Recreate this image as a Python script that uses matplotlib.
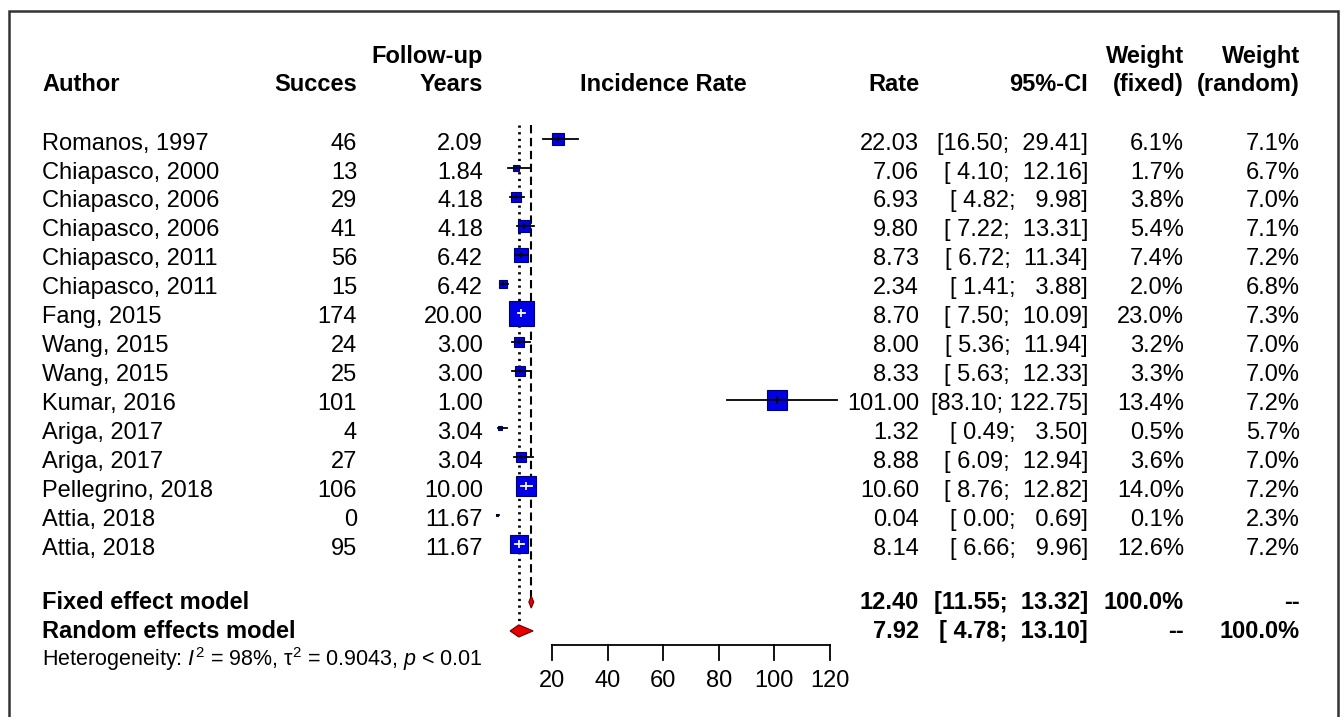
import numpy as np
import matplotlib
matplotlib.use("Agg")
import matplotlib.pyplot as plt
from matplotlib.patches import Rectangle, Polygon
from matplotlib.transforms import blended_transform_factory

plt.rcParams["font.family"] = ["Liberation Sans", "DejaVu Sans"]
plt.rcParams["mathtext.fontset"] = "custom"
plt.rcParams["mathtext.rm"] = "Liberation Sans"
plt.rcParams["mathtext.it"] = "Liberation Sans:italic"

# study data
authors = ["Romanos, 1997", "Chiapasco, 2000", "Chiapasco, 2006", "Chiapasco, 2006",
           "Chiapasco, 2011", "Chiapasco, 2011", "Fang, 2015", "Wang, 2015", "Wang, 2015",
           "Kumar, 2016", "Ariga, 2017", "Ariga, 2017", "Pellegrino, 2018", "Attia, 2018",
           "Attia, 2018"]
succes = [46, 13, 29, 41, 56, 15, 174, 24, 25, 101, 4, 27, 106, 0, 95]
years = [2.09, 1.84, 4.18, 4.18, 6.42, 6.42, 20.00, 3.00, 3.00, 1.00, 3.04, 3.04, 10.00, 11.67, 11.67]
rate = [22.03, 7.06, 6.93, 9.80, 8.73, 2.34, 8.70, 8.00, 8.33, 101.00, 1.32, 8.88, 10.60, 0.04, 8.14]
ci_lo = [16.50, 4.10, 4.82, 7.22, 6.72, 1.41, 7.50, 5.36, 5.63, 83.10, 0.49, 6.09, 8.76, 0.00, 6.66]
ci_hi = [29.41, 12.16, 9.98, 13.31, 11.34, 3.88, 10.09, 11.94, 12.33, 122.75, 3.50, 12.94, 12.82, 0.69, 9.96]
w_fixed = [6.1, 1.7, 3.8, 5.4, 7.4, 2.0, 23.0, 3.2, 3.3, 13.4, 0.5, 3.6, 14.0, 0.1, 12.6]
w_random = [7.1, 6.7, 7.0, 7.1, 7.2, 6.8, 7.3, 7.0, 7.0, 7.2, 5.7, 7.0, 7.2, 2.3, 7.2]

# pooled estimates
fixed_est, fixed_lo, fixed_hi = 12.40, 11.55, 13.32
random_est, random_lo, random_hi = 7.92, 4.78, 13.10
xticks = [20, 40, 60, 80, 100, 120]

W, H = 1341, 717
fig = plt.figure(figsize=(W / 100, H / 100), dpi=100)
ax = fig.add_axes([0, 0, 1, 1])
ax.axis("off")

# pixel -> data mapping
x0_px, px_per_unit = 496.8, 2.775
row0_px, row_px = 139.3, 28.92
ax.set_xlim(-x0_px / px_per_unit, (W - x0_px) / px_per_unit)
ax.set_ylim((H - row0_px) / row_px, -row0_px / row_px)

tr = blended_transform_factory(fig.transFigure, ax.transData)


def fx(px):
    return px / W


def ty(px):
    return (px - row0_px) / row_px


FS = 17
n = len(authors)
dy = 0.15  # text sits a bit below the marker centre
LEFT = 42


def ci_text(lo, hi):
    return f"[{lo:5.2f}; {hi:6.2f}]"


def txt(px, y, s, ha="right", bold=False, size=FS):
    ax.text(fx(px), y, s, transform=tr, fontsize=size, va="center", ha=ha,
            fontweight="bold" if bold else "normal")


# header
h1, h2 = ty(57), ty(84.5)
txt(LEFT, h2, "Author", ha="left", bold=True)
txt(357, h2, "Succes", bold=True)
txt(483, h1, "Follow-up", bold=True)
txt(483, h2, "Years", bold=True)
txt(663, h2, "Incidence Rate", ha="center", bold=True)
txt(919, h2, "Rate", bold=True)
txt(1088, h2, "95%-CI", bold=True)
txt(1184, h1, "Weight", bold=True)
txt(1184, h2, "(fixed)", bold=True)
txt(1300, h1, "Weight", bold=True)
txt(1300, h2, "(random)", bold=True)

# reference lines
fixed_row, random_row = n + 1, n + 2
ax.plot([random_est, random_est], [-0.5, random_row], color="black", lw=2,
        linestyle=(0, (0.8, 1.6)), zorder=1)
ax.plot([fixed_est, fixed_est], [-0.5, fixed_row], color="black", lw=1.5,
        linestyle=(0, (4, 2.2)), zorder=1)

# study rows
max_side = 25.0  # px for largest weight
for i in range(n):
    y = i + dy
    txt(LEFT, y, authors[i], ha="left")
    txt(357, y, str(succes[i]))
    txt(483, y, f"{years[i]:.2f}")
    txt(919, y, f"{rate[i]:.2f}")
    txt(1088, y, ci_text(ci_lo[i], ci_hi[i]))
    txt(1184, y, f"{w_fixed[i]:.1f}%")
    txt(1300, y, f"{w_random[i]:.1f}%")

    side = max(max_side * np.sqrt(w_fixed[i] / max(w_fixed)), 2.5)
    half = side / 2 / px_per_unit
    inside = ci_lo[i] >= rate[i] - half and ci_hi[i] <= rate[i] + half
    ax.plot(rate[i], i, marker="s", markersize=side * 0.72, markerfacecolor="#0000e6",
            markeredgecolor="#00006e", markeredgewidth=0.8, zorder=3)
    lc = "white" if inside else "black"
    ax.plot([ci_lo[i], ci_hi[i]], [i, i], color=lc, lw=1.3, zorder=4)
    ax.plot(rate[i], i, marker="|", markersize=min(side * 0.72 * 0.45, 6), color=lc,
            markeredgewidth=1.2, zorder=4)

# pooled rows
dh = 0.21
pdy = 0.03
for row, est, lo, hi, label in [(fixed_row, fixed_est, fixed_lo, fixed_hi, "Fixed effect model"),
                                (random_row, random_est, random_lo, random_hi, "Random effects model")]:
    ax.add_patch(Polygon([(lo, row), (est, row - dh), (hi, row), (est, row + dh)], closed=True,
                         facecolor="#e60000", edgecolor="#6e0000", lw=0.8, zorder=3))
    txt(LEFT, row + pdy, label, ha="left", bold=True)
    txt(919, row + pdy, f"{est:.2f}", bold=True)
    txt(1088, row + pdy, ci_text(lo, hi), bold=True)

txt(1184, fixed_row + pdy, "100.0%", bold=True)
txt(1300, fixed_row + pdy, "--", bold=True)
txt(1184, random_row + pdy, "--", bold=True)
txt(1300, random_row + pdy, "100.0%", bold=True)

txt(LEFT, ty(659), "Heterogeneity: $I^2$ = 98%, \u03c4$^2$ = 0.9043, $p$ < 0.01",
    ha="left", size=15.5)

# x axis
axis_y, tick_end, label_y = ty(645), ty(660), ty(681)
ax.plot([xticks[0], xticks[-1]], [axis_y, axis_y], color="black", lw=1.3)
for t in xticks:
    ax.plot([t, t], [axis_y, tick_end], color="black", lw=1.3)
    ax.text(t, label_y, str(t), fontsize=FS, ha="center", va="center")

# frame
fig.add_artist(Rectangle((fx(9), -0.05), fx(1338) - fx(9), 1 - 11 / H + 0.05,
                         transform=fig.transFigure, fill=False, edgecolor="#333333", lw=1.8))

fig.savefig("out.png", dpi=100)
